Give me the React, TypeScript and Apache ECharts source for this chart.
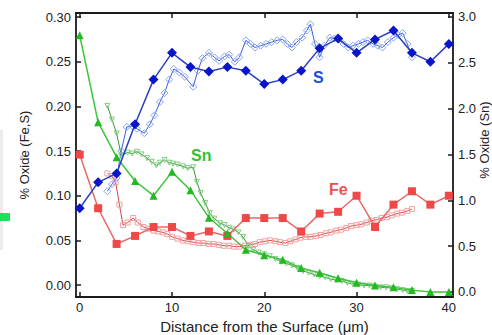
import React, { useEffect, useRef } from "react";
import * as echarts from "echarts";

// ---- data ----
const xTicks = [0, 10, 20, 30, 40];
const leftTicks = [0, 0.05, 0.1, 0.15, 0.2, 0.25, 0.3];
const rightTicks = [0, 0.5, 1.0, 1.5, 2.0, 2.5, 3.0];

const xFilled = [0, 2, 4, 6, 8, 10, 12, 14, 16, 18, 20, 22, 24, 26, 28, 30, 32, 34, 36, 38, 40];
const sFilled = [0.086, 0.115, 0.125, 0.18, 0.23, 0.26, 0.244, 0.239, 0.244, 0.24, 0.225, 0.23, 0.24, 0.265, 0.276, 0.26, 0.275, 0.285, 0.26, 0.25, 0.27];
const snFilled = [2.8, 1.85, 1.47, 1.21, 1.05, 1.31, 1.11, 0.81, 0.64, 0.46, 0.4, 0.35, 0.26, 0.21, 0.15, 0.1, 0.07, 0.05, 0.02, 0.0, 0.0];
const feFilled = [0.146, 0.086, 0.046, 0.055, 0.065, 0.065, 0.055, 0.06, 0.055, 0.075, 0.075, 0.075, 0.06, 0.08, 0.082, 0.1, 0.065, 0.09, 0.105, 0.09, 0.1];

const sOpenX = [3.0, 3.5, 4.0, 4.5, 5.1, 5.7, 6.2, 7.0, 7.6, 8.1, 8.7, 9.2, 9.7, 10.2, 10.8, 11.4, 12.3, 12.8, 13.3, 14.0, 14.6, 15.1, 15.7, 16.2, 16.8, 17.3, 18.0, 18.5, 19.0, 19.6, 20.2, 20.8, 21.4, 22.0, 22.5, 23.0, 23.5, 24.1, 24.6, 25.0, 25.5, 26.0, 26.5, 27.1, 27.6, 28.1, 28.6, 29.1, 29.6, 30.2, 30.7, 31.2, 31.8, 32.3, 32.8, 33.4, 34.0, 34.5, 35.0, 35.5, 36.0];
const sOpenY = [0.105, 0.113, 0.12, 0.15, 0.177, 0.178, 0.175, 0.17, 0.18, 0.19, 0.205, 0.215, 0.23, 0.242, 0.238, 0.233, 0.222, 0.24, 0.254, 0.26, 0.255, 0.251, 0.256, 0.258, 0.25, 0.255, 0.274, 0.27, 0.266, 0.268, 0.27, 0.272, 0.274, 0.275, 0.27, 0.266, 0.272, 0.277, 0.285, 0.292, 0.27, 0.255, 0.268, 0.277, 0.276, 0.275, 0.27, 0.266, 0.268, 0.27, 0.272, 0.274, 0.27, 0.268, 0.266, 0.272, 0.277, 0.28, 0.282, 0.27, 0.255];

const feOpenX = [3.0, 3.5, 3.9, 4.3, 4.7, 5.2, 5.8, 6.3, 6.9, 7.5, 8.0, 8.5, 9.0, 9.5, 10.0, 10.6, 11.2, 11.7, 12.3, 12.9, 13.4, 14.0, 14.5, 15.1, 15.6, 16.2, 16.7, 17.3, 17.9, 18.4, 19.0, 19.5, 20.1, 20.6, 21.2, 21.7, 22.3, 22.8, 23.4, 23.9, 24.5, 25.0, 25.6, 26.1, 26.7, 27.2, 27.8, 28.3, 28.9, 29.4, 30.0, 30.5, 31.1, 31.6, 32.2, 32.7, 33.3, 33.8, 34.4, 34.9, 35.5, 36.0];
const feOpenY = [0.125, 0.122, 0.115, 0.09, 0.067, 0.07, 0.075, 0.07, 0.065, 0.063, 0.061, 0.06, 0.059, 0.057, 0.054, 0.052, 0.05, 0.049, 0.048, 0.047, 0.047, 0.046, 0.046, 0.045, 0.044, 0.044, 0.043, 0.043, 0.044, 0.045, 0.046, 0.048, 0.049, 0.05, 0.049, 0.048, 0.047, 0.049, 0.051, 0.053, 0.054, 0.054, 0.055, 0.056, 0.058, 0.059, 0.061, 0.062, 0.064, 0.066, 0.067, 0.068, 0.07, 0.072, 0.073, 0.075, 0.076, 0.078, 0.08, 0.081, 0.083, 0.085];

const snOpenX = [3.0, 3.5, 4.0, 4.5, 5.2, 5.7, 6.2, 6.7, 7.3, 7.8, 8.3, 8.7, 9.2, 9.7, 10.1, 10.6, 11.2, 11.7, 12.3, 12.7, 13.1, 13.6, 14.1, 14.6, 15.2, 15.7, 16.2, 16.7, 17.2, 17.7, 18.3, 18.8, 19.4, 20.0, 20.6, 21.2, 21.8, 22.4, 23.0, 23.6, 24.2, 24.8, 25.4, 26.0, 26.6, 27.2, 27.8, 28.4, 29.0, 29.6, 30.2, 30.8, 31.4, 32.0, 32.6, 33.2, 33.8, 34.4, 35.0, 35.5, 36.0];
const snOpenY = [2.03, 1.88, 1.73, 1.49, 1.52, 1.51, 1.53, 1.5, 1.46, 1.42, 1.38, 1.41, 1.44, 1.41, 1.4, 1.39, 1.37, 1.35, 1.36, 1.2, 1.08, 0.97, 0.86, 0.8, 0.75, 0.73, 0.7, 0.68, 0.65, 0.6, 0.5, 0.46, 0.43, 0.41, 0.39, 0.36, 0.33, 0.31, 0.29, 0.26, 0.23, 0.21, 0.19, 0.17, 0.16, 0.14, 0.13, 0.12, 0.1, 0.09, 0.08, 0.07, 0.07, 0.06, 0.05, 0.05, 0.04, 0.03, 0.02, 0.01, 0.01];

const zip = (xs: number[], ys: number[]) => xs.map((x, i) => [x, ys[i]]);

const FONT = "'Liberation Sans', Arial, sans-serif";

export default function App() {
  const ref = useRef<HTMLDivElement>(null);
  useEffect(() => {
    if (!ref.current) return;
    const chart = echarts.init(ref.current, null, { renderer: "svg" });
    const axisLine = { show: true, onZero: false, lineStyle: { color: "#1a1a1a", width: 1.8 } };
    const tickStyle = { color: "#1a1a1a", width: 1.5 };
    const label = { color: "#222", fontSize: 13, fontFamily: FONT };
    chart.setOption({
      animation: false,
      backgroundColor: "#ffffff",
      grid: { left: 76, right: 39, top: 13, bottom: 38, containLabel: false, outerBoundsMode: "none" },
      xAxis: [
        {
          type: "value",
          min: -0.4,
          max: 40.45,
          axisLine,
          axisTick: { show: true, inside: true, length: 5, customValues: xTicks, lineStyle: tickStyle },
          axisLabel: { ...label, margin: 4, customValues: xTicks, formatter: (v: number) => String(v) },
          splitLine: { show: false },
          name: "Distance from the Surface (μm)",
          nameLocation: "middle",
          nameGap: 19,
          nameTextStyle: { color: "#222", fontSize: 15, fontFamily: FONT },
        },
        {
          type: "value",
          position: "top",
          min: -0.4,
          max: 40.45,
          axisLine,
          axisTick: { show: true, inside: true, length: 5, customValues: xTicks, lineStyle: tickStyle },
          axisLabel: { show: false },
          splitLine: { show: false },
        },
      ],
      yAxis: [
        {
          type: "value",
          position: "left",
          min: -0.0134,
          max: 0.3046,
          axisLine,
          axisTick: { show: true, inside: true, length: 5, customValues: leftTicks, lineStyle: tickStyle },
          axisLabel: { ...label, margin: 5, customValues: leftTicks, formatter: (v: number) => v.toFixed(2) },
          splitLine: { show: false },
          name: "% Oxide (Fe,S)",
          nameLocation: "middle",
          nameRotate: 90,
          nameGap: 45,
          nameTextStyle: { color: "#222", fontSize: 13, fontFamily: FONT },
        },
        {
          type: "value",
          position: "right",
          min: -0.055,
          max: 3.043,
          axisLine,
          axisTick: { show: true, inside: true, length: 5, customValues: rightTicks, lineStyle: tickStyle },
          axisLabel: { ...label, margin: 5, customValues: rightTicks, formatter: (v: number) => v.toFixed(1) },
          splitLine: { show: false },
        },
      ],
      series: [
        {
          type: "line",
          yAxisIndex: 0,
          data: zip(feOpenX, feOpenY),
          symbol: "rect",
          symbolSize: 5,
          lineStyle: { color: "#d84444", width: 1 },
          itemStyle: { color: "rgba(255,255,255,0)", borderColor: "#f3a0a0", borderWidth: 1 },
          z: 2,
        },
        {
          type: "line",
          yAxisIndex: 1,
          data: zip(snOpenX, snOpenY),
          symbol: "triangle",
          symbolRotate: 180,
          symbolSize: 5,
          lineStyle: { color: "#3b923b", width: 1 },
          itemStyle: { color: "rgba(255,255,255,0)", borderColor: "#7fcf7f", borderWidth: 1 },
          z: 2,
        },
        {
          type: "line",
          yAxisIndex: 0,
          data: zip(sOpenX, sOpenY),
          symbol: "diamond",
          symbolSize: 7,
          lineStyle: { color: "#3d5fd8", width: 1 },
          itemStyle: { color: "rgba(255,255,255,0)", borderColor: "#86a4f2", borderWidth: 1 },
          z: 2,
        },
        {
          type: "line",
          yAxisIndex: 0,
          data: zip(xFilled, feFilled),
          symbol: "rect",
          symbolSize: 8,
          lineStyle: { color: "#e86868", width: 1.5 },
          itemStyle: { color: "#f04848" },
          z: 3,
        },
        {
          type: "line",
          yAxisIndex: 1,
          data: zip(xFilled, snFilled),
          symbol: "triangle",
          symbolSize: 8,
          lineStyle: { color: "#3cc43c", width: 1.5 },
          itemStyle: { color: "#22b922" },
          z: 3,
        },
        {
          type: "line",
          yAxisIndex: 0,
          data: zip(xFilled, sFilled),
          symbol: "diamond",
          symbolSize: 10,
          lineStyle: { color: "#2a3fc0", width: 1.5 },
          itemStyle: { color: "#0a14c8" },
          z: 4,
        },
      ],
      graphic: [
        { type: "text", left: 313, top: 69, z: 10, style: { text: "S", fill: "#1d4fd8", font: `bold 16px ${FONT}` } },
        { type: "text", left: 191, top: 147, z: 10, style: { text: "Sn", fill: "#33c033", font: `bold 16px ${FONT}` } },
        { type: "text", left: 329, top: 181, z: 10, style: { text: "Fe", fill: "#ee5050", font: `bold 16px ${FONT}` } },
        {
          type: "text",
          x: 484,
          y: 140,
          rotation: Math.PI / 2,
          z: 10,
          style: { text: "% Oxide (Sn)", fill: "#222", font: `13px ${FONT}`, align: "center", verticalAlign: "middle" },
        },
        { type: "rect", shape: { x: 0, y: 213, width: 10, height: 8 }, style: { fill: "#22dd55" }, z: 10 },
        { type: "rect", shape: { x: 0, y: 130, width: 3, height: 120 }, style: { fill: "#ececec" }, z: 0 },
        { type: "circle", shape: { cx: 22, cy: 157, r: 2 }, style: { fill: "#cfcfcf" }, z: 10 },
      ],
    });
    return () => chart.dispose();
  }, []);
  return <div ref={ref} style={{ position: "fixed", left: 0, top: 0, width: 492, height: 335 }} />;
}
